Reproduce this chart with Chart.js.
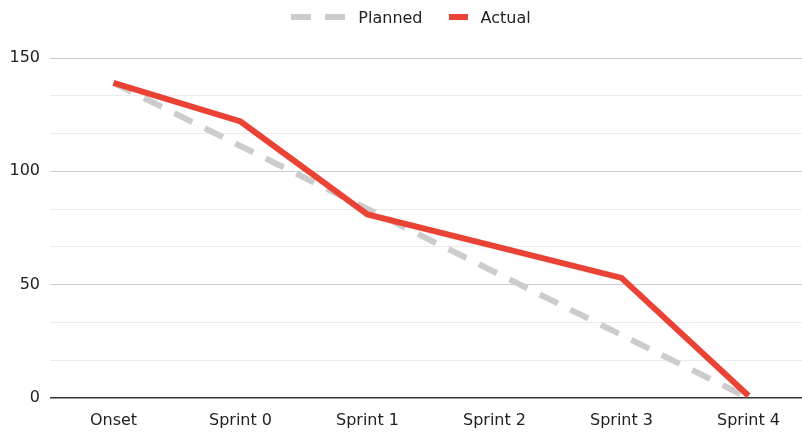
<!DOCTYPE html>
<html>
<head>
<meta charset="utf-8">
<script src="https://cdn.jsdelivr.net/npm/chart.js@4"></script>
<style>
  html, body { margin: 0; padding: 0; overflow: hidden; background: #fff; width: 802px; height: 434px; }
  #wrap { position: relative; width: 812px; height: 434px; }
  #legend { position: absolute; top: 0; left: 10px; width: 802px; height: 34px; display: flex; justify-content: center; align-items: center;
            font-family: 'DejaVu Sans', sans-serif; font-size: 16px; color: #222; }
  .item { display: flex; align-items: center; }
  .sw { display: inline-block; height: 6px; margin-right: 13px; }
</style>
</head>
<body>
<div id="wrap">
  <div id="legend"></div>
  <canvas id="c" width="812" height="434"></canvas>
</div>
<script>
const categories = ['Onset', 'Sprint 0', 'Sprint 1', 'Sprint 2', 'Sprint 3', 'Sprint 4'];
const plannedValues = [139, 111.2, 83.4, 55.6, 27.8, 0];
const actualValues = [139, 122, 81, 67, 53, 1];
const yTickLabels = [0, 50, 100, 150];
const yGridValues = [0, 16.667, 33.333, 50, 66.667, 83.333, 100, 116.667, 133.333, 150];

const seriesNames = ['Planned', 'Actual'];
const RED = '#ea4335';
const GREY = '#cccccc';
const FONT = "'DejaVu Sans', sans-serif";

// HTML legend
const legend = document.getElementById('legend');
legend.innerHTML =
  '<span class="item"><span class="sw" style="width:20px;background:' + GREY + ';margin-right:14px"></span>' +
  '<span class="sw" style="width:20px;background:' + GREY + '"></span>' + seriesNames[0] + '</span>' +
  '<span class="item" style="margin-left:26px"><span class="sw" style="width:19px;background:' + RED + '"></span>' + seriesNames[1] + '</span>';

const isMajor = v => yTickLabels.some(t => Math.abs(t - v) < 1e-3);

new Chart(document.getElementById('c'), {
  type: 'line',
  data: {
    labels: categories,
    datasets: [
      { label: seriesNames[0], data: plannedValues, borderColor: GREY, backgroundColor: GREY,
        borderWidth: 6, borderDash: [20, 14], pointRadius: 0, tension: 0, order: 2, borderCapStyle: 'butt' },
      { label: seriesNames[1], data: actualValues, borderColor: RED, backgroundColor: RED,
        borderWidth: 6, pointRadius: 0, tension: 0, order: 1, borderJoinStyle: 'miter' }
    ]
  },
  options: {
    responsive: false,
    animation: false,
    layout: { padding: { top: 58, right: 0, bottom: 0, left: 0 } },
    plugins: { legend: { display: false }, tooltip: { enabled: false } },
    scales: {
      x: {
        offset: true,
        grid: { display: false },
        border: { display: false },
        ticks: { color: '#222', font: { family: FONT, size: 16 }, padding: 5, maxRotation: 0 },
        afterFit: s => { s.height = 36; }
      },
      y: {
        min: 0, max: 150,
        afterBuildTicks: s => { s.ticks = yGridValues.map(v => ({ value: v })); },
        grid: {
          drawTicks: false,
          color: c => (c.tick && Math.abs(c.tick.value) < 1e-3) ? '#333333' : (isMajor(c.tick ? c.tick.value : 1) ? '#cccccc' : '#ebebeb'),
          lineWidth: c => (c.tick && Math.abs(c.tick.value) < 1e-3) ? 1.5 : 1
        },
        border: { display: false },
        ticks: {
          color: '#222', font: { family: FONT, size: 16 }, padding: 10,
          callback: v => isMajor(v) ? String(Math.round(v)) : ''
        },
        afterFit: s => { s.width = 50; }
      }
    }
  }
});
</script>
</body>
</html>
